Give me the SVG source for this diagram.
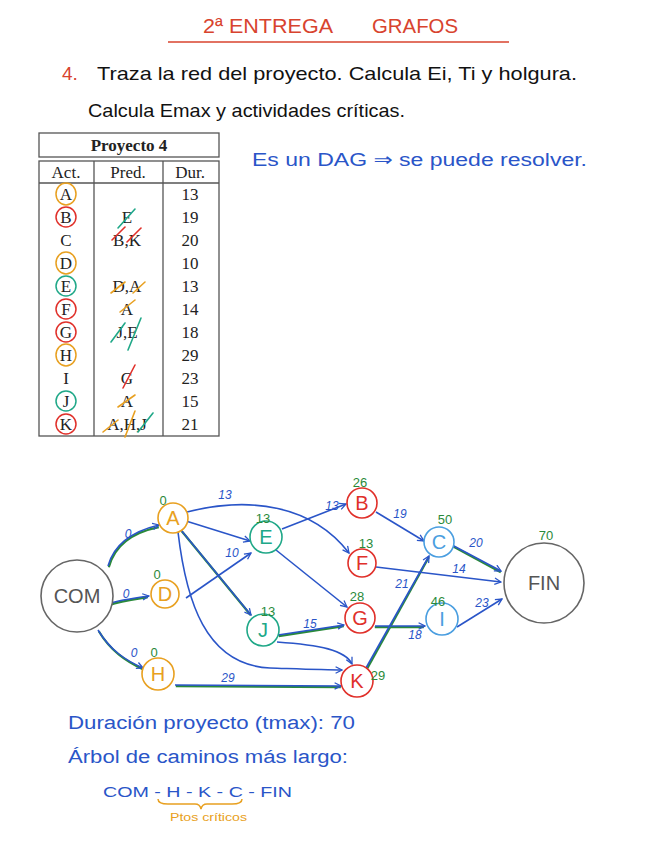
<svg xmlns="http://www.w3.org/2000/svg" width="646" height="848" viewBox="0 0 646 848">
<defs>
<style>
.hw{font-family:"Liberation Sans","DejaVu Sans",sans-serif;}
.ser{font-family:"Liberation Serif","DejaVu Serif",serif;font-size:17px;fill:#222;text-anchor:middle;}
.red{fill:#d8432e;}
.blk{fill:#111;}
.blue{fill:#2a55c8;}
.org{fill:#e8a020;}
.grn{fill:#2a8a3a;font-size:13px;text-anchor:middle;}
.lbl{fill:#2a55c8;font-size:12px;text-anchor:middle;font-style:italic;}
.edge{fill:none;stroke:#2a55c8;stroke-width:1.6;marker-end:url(#ah);}
.crit{fill:none;stroke:#2a8a3a;stroke-width:2.2;}
.tb{fill:none;stroke:#555;stroke-width:1.3;}
.nl{font-size:20px;text-anchor:middle;}
</style>
<marker id="ah" viewBox="0 0 10 10" refX="9" refY="5" markerWidth="8" markerHeight="8" orient="auto" markerUnits="userSpaceOnUse">
<path d="M1,1 L9,5 L1,9" fill="none" stroke="#2a55c8" stroke-width="1.6"/>
</marker>
</defs>
<rect width="646" height="848" fill="#fff"/>

<!-- Title -->
<g id="title">
<text class="hw red" x="203" y="33" font-size="20" textLength="130" lengthAdjust="spacingAndGlyphs">2ª ENTREGA</text>
<text class="hw red" x="372" y="33" font-size="20" textLength="86" lengthAdjust="spacingAndGlyphs">GRAFOS</text>
<line x1="168" y1="42" x2="509" y2="42" stroke="#d8432e" stroke-width="1.5"/>
</g>

<g id="statement">
<text class="hw" x="62" y="80" font-size="19" fill="#d8432e">4.</text>
<text class="hw blk" x="97" y="80" font-size="19" textLength="480" lengthAdjust="spacingAndGlyphs">Traza la red del proyecto. Calcula Ei, Ti y holgura.</text>
<text class="hw blk" x="88" y="117" font-size="19" textLength="317" lengthAdjust="spacingAndGlyphs">Calcula Emax y actividades críticas.</text>
<text class="hw blue" x="252" y="166" font-size="18" textLength="335" lengthAdjust="spacingAndGlyphs">Es un DAG ⇒ se puede resolver.</text>
</g>

<!-- Table -->
<g id="table">
<rect class="tb" x="39" y="133" width="180" height="24"/>
<text class="ser" x="129" y="151" font-weight="bold" font-size="18">Proyecto 4</text>
<rect class="tb" x="39" y="161" width="180" height="275"/>
<line class="tb" x1="94" y1="161" x2="94" y2="436"/>
<line class="tb" x1="163" y1="161" x2="163" y2="436"/>
<line class="tb" x1="39" y1="183" x2="219" y2="183"/>
<text class="ser" x="66" y="178">Act.</text>
<text class="ser" x="128" y="178">Pred.</text>
<text class="ser" x="190" y="178">Dur.</text>
<g>
<text class="ser" x="66" y="200">A</text><text class="ser" x="190" y="200">13</text>
<text class="ser" x="66" y="223">B</text><text class="ser" x="127" y="223">E</text><text class="ser" x="190" y="223">19</text>
<text class="ser" x="66" y="246">C</text><text class="ser" x="127" y="246">B,K</text><text class="ser" x="190" y="246">20</text>
<text class="ser" x="66" y="269">D</text><text class="ser" x="190" y="269">10</text>
<text class="ser" x="66" y="292">E</text><text class="ser" x="127" y="292">D,A</text><text class="ser" x="190" y="292">13</text>
<text class="ser" x="66" y="315">F</text><text class="ser" x="127" y="315">A</text><text class="ser" x="190" y="315">14</text>
<text class="ser" x="66" y="338">G</text><text class="ser" x="127" y="338">J,E</text><text class="ser" x="190" y="338">18</text>
<text class="ser" x="66" y="361">H</text><text class="ser" x="190" y="361">29</text>
<text class="ser" x="66" y="384">I</text><text class="ser" x="127" y="384">G</text><text class="ser" x="190" y="384">23</text>
<text class="ser" x="66" y="407">J</text><text class="ser" x="127" y="407">A</text><text class="ser" x="190" y="407">15</text>
<text class="ser" x="66" y="430">K</text><text class="ser" x="127" y="430">A,H,J</text><text class="ser" x="190" y="430">21</text>
</g>
<g fill="none" stroke-width="1.5">
<ellipse cx="66" cy="194" rx="10" ry="11" stroke="#e8a020"/>
<ellipse cx="66" cy="217" rx="10" ry="10" stroke="#e0302a"/>
<ellipse cx="66" cy="263" rx="10" ry="11" stroke="#e8a020"/>
<ellipse cx="66" cy="286" rx="10" ry="10" stroke="#20a888"/>
<ellipse cx="66" cy="309" rx="10" ry="10" stroke="#e0302a"/>
<ellipse cx="66" cy="332" rx="10" ry="10" stroke="#e0302a"/>
<ellipse cx="66" cy="355" rx="10" ry="11" stroke="#e8a020"/>
<ellipse cx="66" cy="401" rx="10" ry="10" stroke="#20a888"/>
<ellipse cx="66" cy="424" rx="10" ry="10" stroke="#e0302a"/>
</g>
<g fill="none" stroke-width="1.6" stroke-linecap="round">
<line x1="118" y1="228" x2="135" y2="209" stroke="#20a888"/>
<line x1="112" y1="240" x2="125" y2="227" stroke="#e0302a"/>
<line x1="127" y1="242" x2="141" y2="228" stroke="#e0302a"/>
<line x1="111" y1="293" x2="125" y2="282" stroke="#e8a020"/>
<line x1="133" y1="293" x2="145" y2="282" stroke="#e8a020"/>
<line x1="120" y1="312" x2="135" y2="300" stroke="#e8a020"/>
<line x1="111" y1="342" x2="125" y2="323" stroke="#20a888"/>
<line x1="128" y1="350" x2="141" y2="318" stroke="#20a888"/>
<line x1="123" y1="388" x2="135" y2="365" stroke="#e0302a"/>
<line x1="118" y1="407" x2="135" y2="395" stroke="#e8a020"/>
<line x1="103" y1="432" x2="118" y2="420" stroke="#e8a020"/>
<line x1="125" y1="437" x2="135" y2="411" stroke="#e8a020"/>
<line x1="138" y1="432" x2="153" y2="413" stroke="#20a888"/>
</g>
</g>

<!-- Connectors -->
<g id="connectors">
<g class="critpaths" transform="translate(0.8,1.2)">
<path class="crit" d="M108,566 C115,540 138,530 158,526"/>
<path class="crit" d="M108,604 C120,600 135,598 147,596"/>
<path class="crit" d="M98,630 C110,650 125,660 142,668"/>
<path class="crit" d="M175,685 L340,686"/>
<path class="crit" d="M181,530 L250,614"/>
<path class="crit" d="M278,635 L343,625"/>
<path class="crit" d="M374,626 L423,626"/>
<path class="crit" d="M366,668 L428,556"/>
<path class="crit" d="M452,545 L500,571"/>
</g>
<path class="edge" d="M108,566 C115,540 138,530 159,525"/>
<path class="edge" d="M108,604 C120,600 135,598 149,596"/>
<path class="edge" d="M98,630 C110,650 125,660 143,668"/>
<path class="edge" d="M175,685 L341,686"/>
<path class="edge" d="M187,512 C250,496 312,505 349,553"/>
<path class="edge" d="M186,521 L250,541"/>
<path class="edge" d="M186,598 L251,553"/>
<path class="edge" d="M181,530 L251,615"/>
<path class="edge" d="M178,532 C186,600 205,665 270,668 C300,669 325,670 342,670"/>
<path class="edge" d="M282,529 L346,504"/>
<path class="edge" d="M276,550 L347,607"/>
<path class="edge" d="M278,635 L344,625"/>
<path class="edge" d="M277,642 C320,645 345,650 352,664"/>
<path class="edge" d="M376,512 L424,541"/>
<path class="edge" d="M376,567 L501,582"/>
<path class="edge" d="M375,626 L425,626"/>
<path class="edge" d="M366,668 L429,556"/>
<path class="edge" d="M452,545 L501,571"/>
<path class="edge" d="M457,627 L502,599"/>
<g class="hw">
<text class="lbl" x="128" y="538">0</text>
<text class="lbl" x="126" y="598">0</text>
<text class="lbl" x="134" y="657">0</text>
<text class="lbl" x="228" y="682">29</text>
<text class="lbl" x="225" y="499">13</text>
<text class="lbl" x="232" y="557">10</text>
<text class="lbl" x="332" y="510">13</text>
<text class="lbl" x="310" y="628">15</text>
<text class="lbl" x="400" y="518">19</text>
<text class="lbl" x="459" y="573">14</text>
<text class="lbl" x="415" y="639">18</text>
<text class="lbl" x="402" y="588">21</text>
<text class="lbl" x="476" y="547">20</text>
<text class="lbl" x="482" y="607">23</text>
</g>
</g>

<!-- Nodes -->
<g id="node-COM"><circle cx="77" cy="596" r="36" fill="#fff" stroke="#666" stroke-width="1.6"/><text class="hw nl" x="77" y="603" fill="#555" font-size="19">COM</text></g>
<g id="node-FIN"><circle cx="544" cy="583" r="40" fill="#fff" stroke="#666" stroke-width="1.6"/><text class="hw nl" x="544" y="590" fill="#555" font-size="19">FIN</text><text class="hw grn" x="546" y="540" font-size="15">70</text></g>
<g id="node-A"><circle cx="173" cy="518" r="15" fill="#fff" stroke="#e8a020" stroke-width="1.6"/><text class="hw nl org" x="173" y="525">A</text><text class="hw grn" x="163" y="505">0</text></g>
<g id="node-D"><circle cx="165" cy="594" r="14" fill="#fff" stroke="#e8a020" stroke-width="1.6"/><text class="hw nl org" x="165" y="601">D</text><text class="hw grn" x="157" y="579">0</text></g>
<g id="node-H"><circle cx="158" cy="674" r="16" fill="#fff" stroke="#e8a020" stroke-width="1.6"/><text class="hw nl org" x="158" y="681">H</text><text class="hw grn" x="154" y="657">0</text></g>
<g id="node-E"><circle cx="266" cy="537" r="16" fill="#fff" stroke="#20a888" stroke-width="1.6"/><text class="hw nl" x="266" y="544" fill="#20a888">E</text><text class="hw grn" x="263" y="523">13</text></g>
<g id="node-J"><circle cx="263" cy="630" r="16" fill="#fff" stroke="#20a888" stroke-width="1.6"/><text class="hw nl" x="263" y="637" fill="#20a888">J</text><text class="hw grn" x="268" y="616">13</text></g>
<g id="node-B"><circle cx="362" cy="503" r="15" fill="#fff" stroke="#e0302a" stroke-width="1.6"/><text class="hw nl" x="362" y="510" fill="#e0302a">B</text><text class="hw grn" x="360" y="487">26</text></g>
<g id="node-F"><circle cx="362" cy="563" r="14" fill="#fff" stroke="#e0302a" stroke-width="1.6"/><text class="hw nl" x="362" y="570" fill="#e0302a">F</text><text class="hw grn" x="366" y="548">13</text></g>
<g id="node-G"><circle cx="360" cy="618" r="15" fill="#fff" stroke="#e0302a" stroke-width="1.6"/><text class="hw nl" x="360" y="625" fill="#e0302a">G</text><text class="hw grn" x="357" y="601">28</text></g>
<g id="node-K"><circle cx="357" cy="681" r="16" fill="#fff" stroke="#e0302a" stroke-width="1.6"/><text class="hw nl" x="357" y="688" fill="#e0302a">K</text><text class="hw grn" x="378" y="680">29</text></g>
<g id="node-C"><circle cx="439" cy="542" r="15" fill="#fff" stroke="#4a9ee0" stroke-width="1.6"/><text class="hw nl" x="439" y="549" fill="#4a9ee0">C</text><text class="hw grn" x="445" y="524">50</text></g>
<g id="node-I"><circle cx="442" cy="619" r="16" fill="#fff" stroke="#4a9ee0" stroke-width="1.6"/><text class="hw nl" x="442" y="626" fill="#4a9ee0">I</text><text class="hw grn" x="438" y="606" font-size="15">46</text></g>

<!-- Bottom notes -->
<g id="notes">
<text class="hw blue" x="68" y="729" font-size="18" textLength="287" lengthAdjust="spacingAndGlyphs">Duración proyecto (tmax): 70</text>
<text class="hw blue" x="68" y="763" font-size="18" textLength="280" lengthAdjust="spacingAndGlyphs">Árbol de caminos más largo:</text>
<text class="hw blue" x="103" y="797" font-size="15" textLength="189" lengthAdjust="spacingAndGlyphs">COM - H - K - C - FIN</text>
<path d="M158,799 Q158,804 168,804 L195,804 Q200,804 201,809 Q202,804 207,804 L232,804 Q242,804 242,799" fill="none" stroke="#e8a020" stroke-width="1.5"/>
<text class="hw org" x="170" y="821" font-size="11" textLength="77" lengthAdjust="spacingAndGlyphs">Ptos críticos</text>
</g>
</svg>
